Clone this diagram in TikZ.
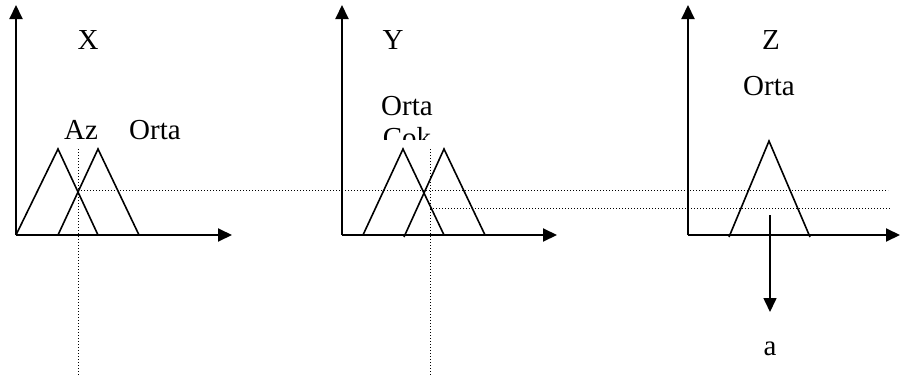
\documentclass[tikz,border=0pt]{standalone}
\usepackage{fontspec}
\setmainfont{Liberation Serif}
\usetikzlibrary{arrows.meta}

\begin{document}
\begin{tikzpicture}[x=1pt, y=-1pt,
    axis/.style={line width=2pt, -{Triangle[length=14pt, width=13pt]}},
    memb/.style={line width=1.6pt, line join=miter},
    guide/.style={line width=1pt, dotted},
    lbl/.style={inner sep=0pt, anchor=base, font=\fontsize{29}{33}\selectfont},
]
\useasboundingbox (0,0) rectangle (900,375);
% X panel
\coordinate (OX) at (16,235);
\coordinate (XT) at (16,5);
\coordinate (XR) at (232,235);
\draw[axis] (OX) -- (XT);
\draw[axis] (OX) -- (XR);
\draw[memb] (16,235) -- (58,149) -- (98,235);
\draw[memb] (58,235) -- (98,149) -- (139,235);
\node[lbl] (xlab) at (88,49) {X};
\node[lbl] (az) at (81,139) {Az};
\node[lbl] (xorta) at (155,139) {Orta};
% Y panel
\coordinate (OY) at (342,235);
\coordinate (YT) at (342,5);
\coordinate (YR) at (557,235);
\draw[axis] (OY) -- (YT);
\draw[axis] (OY) -- (YR);
\draw[memb] (363,235) -- (403,149) -- (444,235);
\draw[memb] (404,237) -- (444,149) -- (485,235);
\node[lbl] (ylab) at (393,49) {Y};
\node[lbl] (yorta) at (407,115) {Orta};
\begin{scope}
  \clip (370,120) rectangle (450,139);
  \node[lbl] (cok) at (407,147) {Çok};
\end{scope}
% Z panel
\coordinate (OZ) at (688,235);
\coordinate (ZT) at (688,5);
\coordinate (ZR) at (900,235);
\draw[axis] (OZ) -- (ZT);
\draw[axis] (OZ) -- (ZR);
\draw[memb] (729,237) -- (769,141) -- (810,237);
\node[lbl] (zlab) at (771,49) {Z};
\node[lbl] (zorta) at (769,95) {Orta};
\coordinate (ztop) at (770,215);
\coordinate (zbot) at (770,312);
\draw[axis, line width=1.6pt] (ztop) -- (zbot);
\node[lbl] (out) at (770,355) {a};
% dotted guides
\coordinate (cx) at (78,190);
\coordinate (cxb) at (78,149);
\coordinate (cxe) at (78,375);
\coordinate (cy) at (430,208);
\coordinate (cyb) at (430,149);
\coordinate (cye) at (430,375);
\coordinate (gx) at (888,190);
\coordinate (gy) at (891,208);
\draw[guide] (cxb) -- (cxe);
\draw[guide] (cyb) -- (cye);
\draw[guide] (cx) -- (gx);
\draw[guide] (cy) -- (gy);
\end{tikzpicture}
\end{document}
